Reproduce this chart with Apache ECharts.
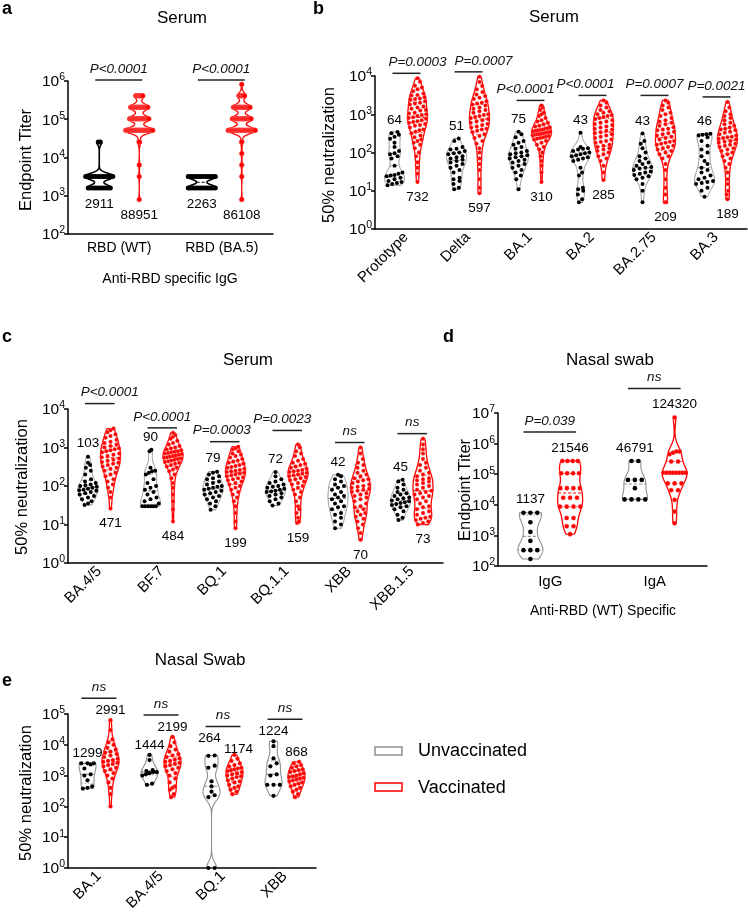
<!DOCTYPE html>
<html><head><meta charset="utf-8">
<script src="https://cdn.jsdelivr.net/npm/echarts@6/dist/echarts.min.js"></script>
<style>html,body{margin:0;padding:0;background:#fff}#c{width:748px;height:914px}</style>
</head><body><div id="c"></div><script>
// ---------------- DATA ----------------
// Panel a: Serum, endpoint titer (anti-RBD IgG)
const aCategories = ['RBD (WT)', 'RBD (BA.5)'];
const aYExponents = [2, 3, 4, 5, 6];
const aUnvax = [
  [1600,1600,1600,1600,1600,1600,1600,1600,1600,1600,
   3200,3200,3200,3200,3200,3200,3200,3200,3200,3200,3200,3200,
   25600,25600],
  [1600,1600,1600,1600,1600,1600,1600,1600,1600,1600,1600,1600,
   3200,3200,3200,3200,3200,3200,3200,3200,3200,3200,3200,3200]
];
const aVax = [
  [800,3200,6400,25600,25600,25600,
   51200,51200,51200,51200,51200,51200,51200,51200,51200,51200,
   51200,51200,51200,51200,51200,51200,51200,51200,51200,51200,
   51200,51200,51200,51200,51200,51200,51200,51200,51200,51200,
   102400,102400,102400,102400,102400,102400,102400,102400,102400,102400,102400,
   102400,102400,102400,102400,102400,102400,102400,102400,102400,102400,102400,
   204800,204800,204800,204800,204800,204800,204800,204800,204800,204800,
   204800,204800,204800,204800,204800,204800,204800,204800,204800,204800,
   409600,409600,409600,409600,409600,409600,409600,409600,409600,409600],
  [800,3200,6400,12800,25600,25600,
   51200,51200,51200,51200,51200,51200,51200,51200,51200,51200,
   51200,51200,51200,51200,51200,51200,51200,51200,51200,51200,
   51200,51200,51200,51200,51200,51200,51200,51200,
   102400,102400,102400,102400,102400,102400,102400,102400,102400,102400,
   102400,102400,102400,102400,102400,102400,102400,102400,102400,102400,
   204800,204800,204800,204800,204800,204800,204800,204800,204800,
   204800,204800,204800,204800,204800,204800,204800,204800,204800,
   409600,409600,409600,409600,409600,409600,409600,409600,
   819200]
];
const aUnvaxLabels = ['2911', '2263'];
const aVaxLabels = ['88951', '86108'];
const aPvalues = ['P<0.0001', 'P<0.0001'];

// Panel b: Serum, 50% neutralization
const bCategories = ['Prototype', 'Delta', 'BA.1', 'BA.2', 'BA.2.75', 'BA.3'];
const bYExponents = [0, 1, 2, 3, 4];
const bUnvax = [
  [346,320,290,260,230,180,140,110,95,90,80,70,45,30,28,26,25,24,22,20,18,17,16,15,14],
  [234,200,140,125,120,110,100,95,90,80,75,70,65,60,55,50,45,40,35,30,22,20,18,15,12,11],
  [350,300,250,200,180,160,140,125,110,100,95,90,85,80,75,70,65,60,55,50,45,40,35,30,25,20,11],
  [330,140,130,125,120,110,100,95,90,85,80,75,70,65,60,40,30,25,12,11,10,8,6,5],
  [316,200,170,130,100,80,70,60,55,50,45,42,40,38,35,32,30,28,26,24,22,20,15,10,5],
  [310,300,290,280,250,200,150,120,100,80,60,50,40,35,30,25,22,20,18,17,16,15,12,10,7]
];
const bVax = [
  [8700,7100,5600,5000,4500,4000,3500,3200,3100,2800,2600,2500,2400,2200,2000,1900,1800,1600,1500,1400,1300,1250,1100,1050,1000,950,900,830,800,760,700,660,630,600,560,520,500,450,400,380,350,320,280,250,220,200,180,160,130,100,80,56,40,28,17],
  [9500,7000,5500,4500,3800,3300,3000,2700,2500,2200,2000,1900,1800,1700,1500,1400,1300,1200,1100,1000,950,900,850,800,750,700,650,600,560,520,480,450,420,400,370,340,300,270,240,200,170,130,100,70,50,35,20,12,8.6],
  [1700,1500,1300,1100,1000,900,800,700,650,600,550,500,480,450,430,420,400,390,380,370,360,350,340,330,320,310,300,300,290,280,270,260,250,240,230,220,200,180,160,140,120,100,80,60,45,30,17],
  [2300,2000,1700,1500,1300,1200,1100,1000,950,900,850,800,750,700,650,600,560,520,480,450,420,400,370,340,320,300,280,260,240,220,200,190,180,160,150,140,130,120,110,100,90,80,70,60,45,30,19],
  [2300,2000,1700,1500,1300,1100,1000,900,800,700,650,600,550,500,460,420,400,380,350,320,300,280,260,240,220,200,190,180,170,160,150,140,130,120,110,100,90,80,70,50,35,20,12,8,5,5],
  [2100,1500,1200,1000,900,800,700,600,550,500,450,420,400,380,350,330,300,280,260,250,240,230,220,200,190,180,170,160,150,140,130,120,110,100,90,80,70,60,50,40,30,20,15,10,8,6]
];
const bUnvaxLabels = ['64', '51', '75', '43', '43', '46'];
const bVaxLabels = ['732', '597', '310', '285', '209', '189'];
const bPvalues = ['P=0.0003', 'P=0.0007', 'P<0.0001', 'P<0.0001', 'P=0.0007', 'P=0.0021'];

// Panel c: Serum, 50% neutralization
const cCategories = ['BA.4/5', 'BF.7', 'BQ.1', 'BQ.1.1', 'XBB', 'XBB.1.5'];
const cYExponents = [0, 1, 2, 3, 4];
const cUnvax = [
  [575,400,350,300,250,200,150,130,120,110,105,100,95,90,85,80,78,75,70,65,60,55,50,45,40,35,32],
  [870,800,300,250,240,220,200,150,120,100,90,80,70,60,50,45,40,35,30,30,30,30,30,30],
  [235,220,200,180,160,150,130,120,110,100,95,90,85,80,75,70,65,60,55,50,45,40,35,30,24],
  [230,180,150,130,120,110,100,95,90,85,80,75,72,70,65,60,55,50,45,40,35,31],
  [195,180,150,130,110,100,90,80,70,60,55,50,45,40,35,30,28,25,20,18,15,12,10,8],
  [145,130,110,90,80,70,65,60,55,50,48,45,42,40,38,36,34,32,30,28,25,22,18,15,13]
];
const cVax = [
  [3100,2800,2500,2200,2000,1800,1600,1400,1300,1200,1100,1000,950,900,850,800,750,700,650,600,560,520,480,450,420,400,380,350,320,300,280,250,220,200,180,150,130,110,90,70,50,26],
  [2400,2100,1900,1700,1500,1300,1200,1100,1000,950,900,850,800,780,750,720,700,680,650,620,600,580,560,540,520,500,480,460,440,420,400,380,350,320,300,270,240,200,160,120,90,60,40,25,12],
  [1050,950,900,800,700,650,600,550,500,460,430,400,380,350,330,310,300,280,260,250,240,230,220,210,200,190,180,170,160,150,140,130,120,110,100,90,80,70,60,50,40,30,20,12,8],
  [1200,1000,800,700,600,500,450,400,380,350,320,300,280,260,250,240,230,220,210,200,190,180,170,160,150,140,130,120,110,100,90,80,70,60,50,40,30,25,20,15,12,11],
  [1000,700,500,400,350,300,250,220,200,180,160,150,140,130,120,110,100,95,90,85,80,75,70,65,60,55,50,45,40,35,30,28,25,22,20,18,16,14,12,10,8,6,4],
  [1700,1200,900,700,500,400,350,300,250,220,200,180,160,150,140,130,120,110,100,90,80,75,70,65,60,55,50,45,40,35,30,28,25,22,20,18,16,15,14,13,12,11,10]
];
const cUnvaxLabels = ['103', '90', '79', '72', '42', '45'];
const cVaxLabels = ['471', '484', '199', '159', '70', '73'];
const cPvalues = ['P<0.0001', 'P<0.0001', 'P=0.0003', 'P=0.0023', 'ns', 'ns'];

// Panel d: Nasal swab, endpoint titer
const dCategories = ['IgG', 'IgA'];
const dYExponents = [2, 3, 4, 5, 6, 7];
const dUnvax = [
  [5500,5500,5500,2700,1300,660,330,330,330,170],
  [270000,270000,65000,65000,65000,35000,15000,15000,15000,15000]
];
const dVax = [
  [270000,270000,270000,270000,107000,107000,107000,107000,35000,35000,35000,35000,17000,17000,17000,8700,8700,8700,8700,3700,3700,2000,2000,1100],
  [7100000,550000,550000,500000,450000,260000,260000,112000,112000,112000,112000,112000,112000,112000,112000,50000,50000,50000,30000,30000,14500,6000,2500]
];
const dUnvaxLabels = ['1137', '46791'];
const dVaxLabels = ['21546', '124320'];
const dPvalues = ['P=0.039', 'ns'];

// Panel e: Nasal swab, 50% neutralization
const eCategories = ['BA.1', 'BA.4/5', 'BQ.1', 'XBB'];
const eYExponents = [0, 1, 2, 3, 4, 5];
const eUnvax = [
  [2500,2500,2500,2300,1700,1100,1000,700,450,400,380],
  [4700,3200,1500,1400,1300,1300,1200,1100,1000,550,500],
  [4500,4400,2100,1800,650,450,300,230,200,1,1],
  [13000,9000,3600,2500,2000,1100,1000,500,500,500,220]
];
const eVax = [
  [63000,30000,15000,12000,10000,8000,7000,6000,5500,5000,4500,4000,3500,3200,3000,2800,2600,2400,2200,2000,1800,1600,1400,1200,1000,800,600,400,250,100],
  [18000,12000,9000,7000,6000,5000,4500,4000,3600,3300,3000,2800,2600,2400,2200,2000,1800,1600,1400,1200,1000,800,600,450,400,350,250,200],
  [4700,3500,3000,2500,2200,2000,1800,1700,1600,1500,1400,1300,1200,1100,1000,950,900,800,700,650,600,500,450,400,350,300,250],
  [2800,2500,2200,2000,1800,1600,1500,1400,1300,1200,1100,1000,950,900,850,800,750,700,650,600,550,500,450,400,350,300,250,200]
];
const eUnvaxLabels = ['1299', '1444', '264', '1224'];
const eVaxLabels = ['2991', '2199', '1174', '868'];
const ePvalues = ['ns', 'ns', 'ns', 'ns'];

const legendNames = ['Unvaccinated', 'Vaccinated'];

// ---------------- LAYOUT / STYLE ----------------
const FONT = '"Liberation Sans", Arial, Helvetica, sans-serif';
const RED = '#ff0000';
const GREY = '#8f8f8f';

const PANELS = [
  { categories: aCategories, unvax: aUnvax, vax: aVax, unvaxLabels: aUnvaxLabels, vaxLabels: aVaxLabels,
    pvals: aPvalues, yExp: aYExponents,
    grid: { left: 68, top: 81, width: 205, height: 153 },
    rotate: 0, xFont: 14, xMargin: 7,
    offset: 0.195, maxHW: 15, bw: 0.08, r: 2.5, unvaxOutline: '#000', unvaxLW: 1.6,
    labelMode: ['below', 'below'], gapAbove: 12, gapBelow: 16,
    bracket: { mode: 'axisTop', gap: 1, ext: [4, 3] }, pDx: [0, 0], lift: [0, 0] },
  { categories: bCategories, unvax: bUnvax, vax: bVax, unvaxLabels: bUnvaxLabels, vaxLabels: bVaxLabels,
    pvals: bPvalues, yExp: bYExponents,
    grid: { left: 375, top: 76, width: 372, height: 153 },
    rotate: 45, xFont: 15, xMargin: 6,
    offset: 0.185, maxHW: 10, bw: 0.17, r: 2, unvaxOutline: GREY, unvaxLW: 1,
    labelMode: ['above', 'below'], gapAbove: 12, gapBelow: 15,
    bracket: { mode: 'dataMax', gap: 5, ext: [2, 3] }, pDx: [11, 15, -5, -7, 0, 0], lift: [0, 0, 0, 0, 0, 0] },
  { categories: cCategories, unvax: cUnvax, vax: cVax, unvaxLabels: cUnvaxLabels, vaxLabels: cVaxLabels,
    pvals: cPvalues, yExp: cYExponents,
    grid: { left: 68, top: 409, width: 375, height: 154 },
    rotate: 45, xFont: 15, xMargin: 6,
    offset: 0.18, maxHW: 10, bw: 0.17, r: 2, unvaxOutline: GREY, unvaxLW: 1,
    labelMode: ['above', 'below'], gapAbove: 13, gapBelow: 15,
    bracket: { mode: 'dataMax', gap: 5, ext: [3, 4] }, pDx: [10, 0, -3, -5, 0, 0], lift: [20, 0, 0, 9, 0, 0] },
  { categories: dCategories, unvax: dUnvax, vax: dVax, unvaxLabels: dUnvaxLabels, vaxLabels: dVaxLabels,
    pvals: dPvalues, yExp: dYExponents,
    grid: { left: 498, top: 413, width: 209, height: 153 },
    rotate: 0, xFont: 15, xMargin: 8,
    offset: 0.19, maxHW: 12.5, bw: 0.25, r: 2.3, unvaxOutline: GREY, unvaxLW: 1.1,
    labelMode: ['above', 'above'], gapAbove: 13, gapBelow: 15,
    bracket: { mode: 'labelTop', gap: 16, ext: [7, 6] }, pDx: [0, 0], lift: [0, 0] },
  { categories: eCategories, unvax: eUnvax, vax: eVax, unvaxLabels: eUnvaxLabels, vaxLabels: eVaxLabels,
    pvals: ePvalues, yExp: eYExponents,
    grid: { left: 68, top: 714, width: 248, height: 154 },
    rotate: 45, xFont: 15, xMargin: 6,
    offset: 0.185, maxHW: 8.5, bw: 0.2, r: 2.1, unvaxOutline: GREY, unvaxLW: 1.1,
    labelMode: ['above', 'above'], gapAbove: 10, gapBelow: 15,
    labelAdjust: { '0:2': [-2, -7], '1:2': [4, 4] },
    bracket: { mode: 'labelTop', gap: 12, ext: [6, 6] }, pDx: [0, 0, 0, 0], lift: [0, 0, 0, 0] }
];

// ---------------- HELPERS ----------------
function geom(p, gi, i, api) {
  const vals = (gi ? p.vax : p.unvax)[i];
  const ref = vals[0];
  const band = api.coord([1, ref])[0] - api.coord([0, ref])[0];
  const cx = api.coord([i, ref])[0] + (gi ? 1 : -1) * p.offset * band;
  const ypx = v => api.coord([i, v])[1];
  const logs = vals.map(v => Math.log10(v));
  const lo = Math.min.apply(null, logs), hi = Math.max.apply(null, logs);
  return { vals, cx, ypx, logs, lo, hi, maxY: ypx(Math.pow(10, hi)), minY: ypx(Math.pow(10, lo)) };
}
function labelPos(p, gi, i, g) {
  let x = g.cx;
  let y = p.labelMode[gi] === 'above' ? g.maxY - p.gapAbove : g.minY + p.gapBelow;
  const adj = p.labelAdjust && p.labelAdjust[gi + ':' + i];
  if (adj) { x += adj[0]; y += adj[1]; }
  return [x, y];
}
function quantile(sorted, q) {
  const pos = (sorted.length - 1) * q, b = Math.floor(pos), f = pos - b;
  return sorted[b] + (sorted[Math.min(b + 1, sorted.length - 1)] - sorted[b]) * f;
}

function groupSeries(p, pi, gi) {
  const groups = gi ? p.vax : p.unvax;
  const labels = gi ? p.vaxLabels : p.unvaxLabels;
  const outline = gi ? RED : p.unvaxOutline;
  const outlineLW = gi ? 1.3 : p.unvaxLW;
  const dotFill = gi ? RED : '#000';
  return {
    type: 'custom', coordinateSystem: 'cartesian2d', xAxisIndex: pi, yAxisIndex: pi,
    data: groups.map((v, i) => [i, Math.max.apply(null, v)]),
    encode: { x: 0, y: 1 }, clip: false, silent: true, z: 2 + gi,
    renderItem: function (params, api) {
      const i = api.value(0);
      const g = geom(p, gi, i, api);
      const logs = g.logs;
      const dens = t => logs.reduce((s, x) => s + Math.exp(-0.5 * Math.pow((t - x) / p.bw, 2)), 0);
      const N = 90, gridT = [];
      for (let k = 0; k < N; k++) gridT.push(g.lo + (g.hi - g.lo) * k / (N - 1));
      const d = gridT.map(dens);
      const dmax = Math.max.apply(null, d);
      const hwAt = t => Math.min(1, dens(t) / dmax) * p.maxHW;
      const right = gridT.map((t, k) => [g.cx + p.maxHW * d[k] / dmax, g.ypx(Math.pow(10, t))]);
      const left = gridT.map((t, k) => [g.cx - p.maxHW * d[k] / dmax, g.ypx(Math.pow(10, t))]).reverse();
      const children = [];
      children.push({ type: 'polygon', shape: { points: right.concat(left) },
        style: { fill: 'rgba(255,255,255,0)', stroke: outline, lineWidth: outlineLW, lineJoin: 'round' } });
      const sorted = logs.slice().sort((a, b) => a - b);
      [0.25, 0.5, 0.75].forEach(q => {
        const t = quantile(sorted, q);
        const hw = hwAt(t), y = g.ypx(Math.pow(10, t));
        children.push({ type: 'line', shape: { x1: g.cx - hw, y1: y, x2: g.cx + hw, y2: y },
          style: { stroke: outline, lineWidth: q === 0.5 ? 1.1 : 0.8, lineDash: q === 0.5 ? [3, 2] : [1.5, 2] } });
      });
      const pts = g.vals.map(v => ({ v: v, t: Math.log10(v), y: g.ypx(v) })).sort((a, b) => b.y - a.y);
      const binPx = p.r * 2;
      const bins = [];
      let cur = [pts[0]];
      for (let k = 1; k < pts.length; k++) {
        if (cur[0].y - pts[k].y <= binPx) cur.push(pts[k]); else { bins.push(cur); cur = [pts[k]]; }
      }
      bins.push(cur);
      bins.forEach(bin => {
        const n = bin.length;
        const tMean = bin.reduce((s, q) => s + q.t, 0) / n;
        const avail = Math.max(0, 2 * (hwAt(tMean) - p.r * 0.6));
        const sp = n > 1 ? Math.min(p.r * 3, avail / (n - 1)) : 0;
        bin.forEach((q, j) => {
          children.push({ type: 'circle', shape: { cx: g.cx + (j - (n - 1) / 2) * sp, cy: q.y, r: p.r },
            style: gi ? { fill: dotFill, stroke: 'rgba(255,160,160,0.7)', lineWidth: 0.4 } : { fill: dotFill } });
        });
      });
      const lp = labelPos(p, gi, i, g);
      children.push({ type: 'text', style: { x: lp[0], y: lp[1], text: labels[i], fill: '#000',
        fontSize: 13.5, fontFamily: FONT, align: 'center', verticalAlign: 'middle' } });
      return { type: 'group', children: children };
    }
  };
}

function bracketSeries(p, pi) {
  const base = Math.pow(10, p.yExp[0]);
  return {
    type: 'custom', coordinateSystem: 'cartesian2d', xAxisIndex: pi, yAxisIndex: pi,
    data: p.categories.map((c, i) => [i, base]),
    encode: { x: 0, y: 1 }, clip: false, silent: true, z: 5,
    renderItem: function (params, api) {
      const i = api.value(0);
      const g0 = geom(p, 0, i, api), g1 = geom(p, 1, i, api);
      const b = p.bracket;
      let ly;
      if (b.mode === 'axisTop') ly = api.coord([i, Math.pow(10, p.yExp[p.yExp.length - 1])])[1] - b.gap;
      else if (b.mode === 'dataMax') ly = Math.min(g0.maxY, g1.maxY) - b.gap;
      else ly = Math.min(labelPos(p, 0, i, g0)[1], labelPos(p, 1, i, g1)[1]) - b.gap;
      ly -= p.lift[i];
      const xL = g0.cx - b.ext[0], xR = g1.cx + b.ext[1];
      const tx = (xL + xR) / 2 + p.pDx[i];
      return { type: 'group', children: [
        { type: 'line', shape: { x1: xL, y1: ly, x2: xR, y2: ly }, style: { stroke: '#222', lineWidth: 1.5 } },
        { type: 'text', style: { x: tx, y: ly - 11, text: p.pvals[i], fill: '#111', fontSize: 13.5,
          fontStyle: 'italic', fontFamily: FONT, align: 'center', verticalAlign: 'middle' } }
      ] };
    }
  };
}

// ---------------- OPTION ----------------
const axisLineStyle = { color: '#000', width: 1.5 };
const option = {
  animation: false,
  backgroundColor: '#fff',
  grid: PANELS.map(p => Object.assign({ containLabel: false, outerBoundsMode: 'none' }, p.grid)),
  xAxis: PANELS.map((p, pi) => ({
    type: 'category', gridIndex: pi, data: p.categories,
    axisLine: { lineStyle: axisLineStyle },
    axisTick: { alignWithLabel: true, length: 5, lineStyle: axisLineStyle },
    axisLabel: { interval: 0, rotate: p.rotate, fontSize: p.xFont, fontFamily: FONT, color: '#000', margin: p.xMargin },
    splitLine: { show: false }
  })),
  yAxis: PANELS.map((p, pi) => ({
    type: 'log', logBase: 10, gridIndex: pi,
    min: Math.pow(10, p.yExp[0]), max: Math.pow(10, p.yExp[p.yExp.length - 1]),
    splitNumber: p.yExp.length - 1,
    axisLine: { show: true, lineStyle: axisLineStyle },
    axisTick: { show: true, length: 4, lineStyle: axisLineStyle },
    minorTick: { show: false }, splitLine: { show: false },
    axisLabel: {
      margin: 3, color: '#000',
      formatter: v => '{b|10}{s|' + Math.round(Math.log10(v)) + '}',
      rich: {
        b: { fontSize: 15.5, fontFamily: FONT, color: '#000', lineHeight: 18, verticalAlign: 'bottom' },
        s: { fontSize: 10.5, fontFamily: FONT, color: '#000', lineHeight: 18, verticalAlign: 'top' }
      }
    }
  })),
  series: PANELS.reduce((arr, p, pi) => arr.concat([groupSeries(p, pi, 0), groupSeries(p, pi, 1), bracketSeries(p, pi)]), []),
  graphic: []
};

function txt(x, y, text, size, extra) {
  return Object.assign({ type: 'text', x: x, y: y, silent: true,
    style: Object.assign({ text: text, fontSize: size, fontFamily: FONT, fill: '#000', align: 'center', verticalAlign: 'middle' },
      (extra && extra.style) || {}) }, extra && extra.rotation ? { rotation: extra.rotation } : {});
}
const bold = { style: { fontWeight: 'bold', align: 'left' } };
const vert = { rotation: Math.PI / 2 };
option.graphic = [
  txt(2, 9, 'a', 18, bold), txt(313, 9, 'b', 18, bold), txt(2, 337, 'c', 18, bold),
  txt(443, 337, 'd', 18, bold), txt(2, 681, 'e', 18, bold),
  txt(182, 18, 'Serum', 17), txt(554, 17, 'Serum', 17), txt(248, 360, 'Serum', 17),
  txt(610, 360, 'Nasal swab', 17), txt(200, 660, 'Nasal Swab', 17),
  txt(26, 160, 'Endpoint Titer', 16.5, vert), txt(329, 155, '50% neutralization', 16.5, vert),
  txt(22, 487, '50% neutralization', 16.5, vert), txt(465, 490, 'Endpoint Titer', 16.5, vert),
  txt(26, 793, '50% neutralization', 16.5, vert),
  txt(170, 279, 'Anti-RBD specific IgG', 14), txt(603, 611, 'Anti-RBD (WT) Specific', 14),
  { type: 'rect', shape: { x: 375, y: 747, width: 27, height: 8 }, style: { fill: '#fff', stroke: GREY, lineWidth: 1.5 } },
  { type: 'rect', shape: { x: 375, y: 783, width: 27, height: 8 }, style: { fill: '#fff', stroke: RED, lineWidth: 1.5 } },
  txt(418, 751, legendNames[0], 18, { style: { align: 'left' } }),
  txt(418, 788, legendNames[1], 18, { style: { align: 'left' } })
];

const chart = echarts.init(document.getElementById('c'), null, { renderer: 'canvas', width: 748, height: 914 });
chart.setOption(option);
</script></body></html>
